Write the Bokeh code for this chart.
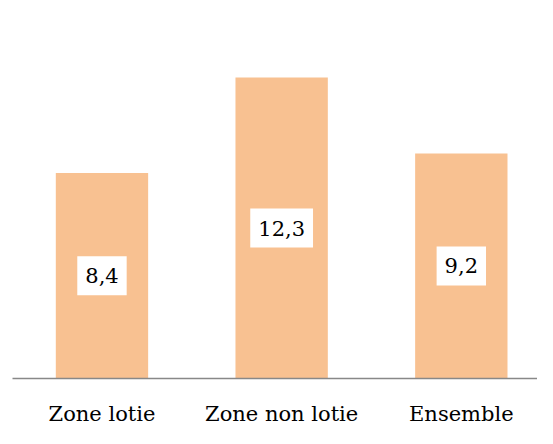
from bokeh.plotting import figure
from bokeh.models import ColumnDataSource, Range1d, FixedTicker
from bokeh.core.properties import value
from bokeh.embed import file_html
from bokeh.resources import INLINE

categories = ["Zone lotie", "Zone non lotie", "Ensemble"]
values = [8.4, 12.3, 9.2]
value_labels = ["8,4", "12,3", "9,2"]

positions = list(range(len(categories)))
source = ColumnDataSource(dict(
    x=positions,
    top=values,
    mid=[v / 2 for v in values],
    lab=value_labels,
))

SERIF = "DejaVu Serif"

p = figure(width=537, height=428, output_backend="svg", toolbar_location=None,
           x_range=Range1d(-0.498, 2.424), y_range=Range1d(0, 15.45),
           min_border_left=12, min_border_right=0, min_border_top=0, min_border_bottom=0)

p.vbar(x="x", top="top", bottom=0, width=0.514, source=source,
       fill_color="#F8C191", line_color=None)

p.text(x="x", y="mid", text="lab", source=source,
       text_align="center", text_baseline="middle",
       text_font=value(SERIF), text_font_size="21px",
       text_color="#000000",
       background_fill_color="white", padding=(8, 12))

p.yaxis.visible = False
p.xgrid.visible = False
p.ygrid.visible = False
p.outline_line_color = None
p.background_fill_color = "white"
p.border_fill_color = "white"

xa = p.xaxis[0]
xa.ticker = FixedTicker(ticks=positions)
xa.major_label_overrides = {i: c for i, c in enumerate(categories)}
xa.major_tick_line_color = None
xa.minor_tick_line_color = None
xa.axis_line_color = "#888888"
xa.axis_line_width = 1.5
xa.major_label_text_font = SERIF
xa.major_label_text_font_size = "21px"
xa.major_label_text_color = "#000000"
xa.major_label_text_line_height = 1.0
xa.major_label_standoff = 17

open("out.html", "w").write(file_html(p, INLINE))
